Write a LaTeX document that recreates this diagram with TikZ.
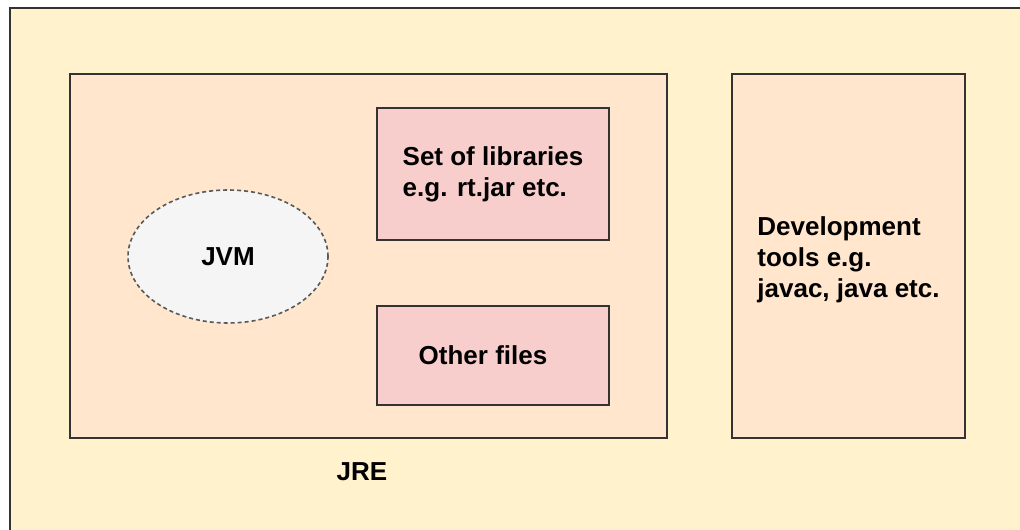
\documentclass[tikz,border=0pt]{standalone}
\usepackage{fontspec}
\setmainfont{Liberation Sans}
\usetikzlibrary{shapes.geometric}
\definecolor{cream}{HTML}{FFF2CC}
\definecolor{peach}{HTML}{FFE6CC}
\definecolor{rose}{HTML}{F8CECC}
\definecolor{mist}{HTML}{F5F5F5}
\tikzset{bx/.style={rectangle, draw=black!80, line width=0.9pt, fill=#1,
            inner sep=0pt, align=left,
            font=\fontsize{13}{15.5}\selectfont\bfseries},
         lbl/.style={font=\fontsize{13}{15.5}\selectfont\bfseries}}

\begin{document}
\begin{tikzpicture}[x=0.5pt, y=-0.5pt]
\useasboundingbox (0,0) rectangle (1020,529);
\clip (0,0) rectangle (1020,529);
\fill[white] (0,0) rectangle (1020,529);
% whole page frame
\node[bx=cream, line width=1.1pt, minimum width=515pt, minimum height=268.5pt]
   (page) at (525,276.5) {};
% JRE part
\node[bx=peach, minimum width=298.5pt, minimum height=182pt] (jre) at (368.5,256) {};
\node[bx=rose, minimum width=116pt, minimum height=66pt] (libs) at (493,174)
   {Set of libraries\\e.g. rt.jar etc.};
\node[bx=rose, minimum width=116pt, minimum height=49.5pt] (other) at (493,355.5)
   {Other files\hspace{10pt}};
\node[ellipse, draw=black!65, dash pattern=on 2pt off 1.5pt, line width=0.8pt, fill=mist,
      minimum width=100pt, minimum height=66.5pt, lbl] (jvm) at (228,256.5) {JVM};
\node[lbl] (jrelabel) at (362,472) {JRE};
% tools
\node[bx=peach, minimum width=116.5pt, minimum height=182pt] (dev) at (848.5,256)
   {\rule{0pt}{13pt}Development\\tools e.g.\\javac, java etc.};
\end{tikzpicture}
\end{document}
